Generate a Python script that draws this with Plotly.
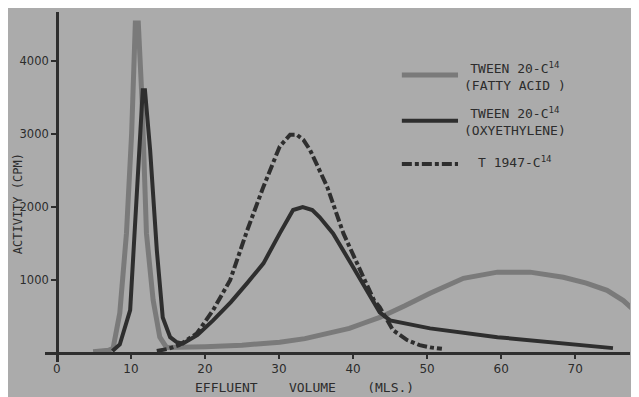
import plotly.graph_objects as go

# Effluent volume (mls) and activity (cpm)
fatty_x = [4.9, 7.0, 7.6, 8.5, 9.4, 10.1, 10.6, 11.0, 11.5, 12.1, 13.0, 13.9, 14.8, 16.6, 20.0, 25.0, 30.1, 33.5, 36.9, 39.5, 41.4, 43.6, 47.0, 50.4, 54.9, 59.5, 63.9, 68.4, 71.5, 74.3, 76.5, 78.1]
fatty_y = [20, 40, 70, 550, 1640, 3010, 4520, 4520, 3470, 1640, 730, 220, 80, 80, 90, 110, 150, 200, 270, 340, 410, 490, 650, 820, 1025, 1110, 1110, 1040, 960, 860, 720, 575]

oxy_x = [7.5, 8.5, 9.9, 10.8, 11.6, 11.9, 12.6, 13.5, 14.3, 15.3, 16.2, 17.0, 19.0, 21.1, 23.5, 25.7, 27.9, 30.1, 31.9, 33.2, 34.5, 35.5, 37.3, 40.0, 42.3, 43.6, 45.0, 50.4, 59.5, 68.4, 75.1]
oxy_y = [30, 120, 590, 2100, 3600, 3600, 2780, 1410, 490, 220, 150, 130, 250, 450, 700, 960, 1230, 1640, 1960, 2000, 1960, 1860, 1640, 1180, 770, 560, 450, 340, 220, 140, 70]

t1947_x = [13.5, 15.0, 16.5, 18.9, 21.1, 23.4, 25.7, 27.9, 30.1, 31.5, 32.4, 33.3, 34.2, 36.5, 38.7, 41.0, 42.8, 43.6, 45.4, 47.3, 49.0, 50.4, 52.0]
t1947_y = [30, 60, 110, 270, 590, 1000, 1680, 2280, 2830, 2990, 2990, 2920, 2780, 2280, 1640, 1140, 730, 630, 315, 180, 110, 80, 60]

x_ticks = [0, 10, 20, 30, 40, 50, 60, 70]
y_ticks = [1000, 2000, 3000, 4000]

X_RANGE = [-1.6, 77.4]
Y_RANGE = [-120, 4670]

BG = "#ababab"
DARK = "#2e2e2e"
LIGHT = "#7a7a7a"
TXT = "#2c2c2c"
MONO = "DejaVu Sans Mono"
SANS = "DejaVu Sans"
DASH = "10px,3px,4px,3px"

fig = go.Figure()
fig.add_trace(go.Scatter(x=fatty_x, y=fatty_y, mode="lines", line=dict(color=LIGHT, width=5), showlegend=False, cliponaxis=False))
fig.add_trace(go.Scatter(x=t1947_x, y=t1947_y, mode="lines", line=dict(color=DARK, width=4, dash=DASH), showlegend=False))
fig.add_trace(go.Scatter(x=oxy_x, y=oxy_y, mode="lines", line=dict(color=DARK, width=4), showlegend=False))

xpos = (0 - Y_RANGE[0]) / (Y_RANGE[1] - Y_RANGE[0])
ypos = (0 - X_RANGE[0]) / (X_RANGE[1] - X_RANGE[0])

fig.update_layout(
    width=639, height=397,
    margin=dict(l=37, r=17, t=4, b=43, autoexpand=False),
    paper_bgcolor=BG, plot_bgcolor=BG,
    font=dict(family=SANS, color=TXT, size=11),
    xaxis=dict(range=X_RANGE, domain=[0, 1], anchor="free", position=xpos, automargin=False,
               tickvals=x_ticks, ticktext=[str(v) for v in x_ticks],
               ticks="outside", ticklen=4, tickwidth=2, tickcolor=DARK,
               showline=True, linecolor=DARK, linewidth=2.5,
               showgrid=False, zeroline=False,
               tickfont=dict(size=12, family=SANS, color=TXT)),
    yaxis=dict(range=Y_RANGE, domain=[0, 1], anchor="free", position=ypos, automargin=False,
               tickvals=y_ticks, ticktext=[str(v) for v in y_ticks],
               ticks="outside", ticklen=5, tickwidth=2, tickcolor=DARK,
               showline=True, linecolor=DARK, linewidth=2.5,
               showgrid=False, zeroline=False,
               tickfont=dict(size=11.5, family=SANS, color=TXT)),
)

# axis titles
fig.add_annotation(text="EFFLUENT    VOLUME    (MLS.)", xref="paper", yref="paper",
                   x=0.444, y=-0.074, yanchor="middle", xanchor="center", showarrow=False,
                   font=dict(size=13, family=MONO, color=TXT))
fig.add_annotation(text="ACTIVITY (CPM)", xref="paper", yref="paper", x=-0.046, y=0.451,
                   xanchor="center", yanchor="middle",
                   textangle=-90, showarrow=False, font=dict(size=12, family=MONO, color=TXT))

# legend drawn manually
legend = [
    (0.82, 0.817, LIGHT, 5, "solid", "TWEEN 20-C<sup>14</sup><br>(FATTY ACID )"),
    (0.689, 0.686, DARK, 4, "solid", "TWEEN 20-C<sup>14</sup><br>(OXYETHYLENE)"),
    (0.566, 0.571, DARK, 4, DASH, "T 1947-C<sup>14</sup>"),
]
for yl, yt, col, w, dash, label in legend:
    fig.add_shape(type="line", xref="paper", yref="paper", x0=0.610, x1=0.706, y0=yl, y1=yl,
                  line=dict(color=col, width=w, dash=dash))
    fig.add_annotation(text=label, xref="paper", yref="paper", x=0.804, y=yt,
                       xanchor="center", yanchor="middle", align="center", showarrow=False,
                       font=dict(size=13, family=MONO, color=TXT))

fig.write_html("out.html")
